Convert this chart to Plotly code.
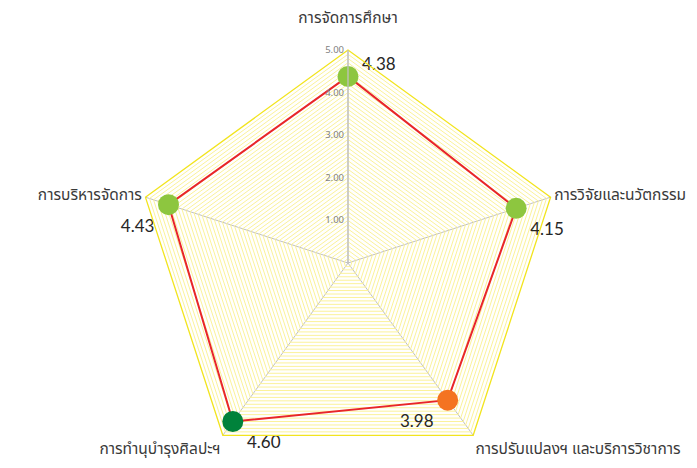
import plotly.graph_objects as go

categories = ["การจัดการศึกษา", "การวิจัยและนวัตกรรม", "การปรับแปลงฯ และบริการวิชาการ",
              "การทำนุบำรุงศิลปะฯ", "การบริหารจัดการ"]
category_labels = ["การจัดการศึกษา<br> ", "การวิจัยและนวัตกรรม", "การปรับแปลงฯ และบริการวิชาการ",
                   "การทำนุบำรุงศิลปะฯ", "การบริหารจัดการ"]
values = [4.38, 4.15, 3.98, 4.60, 4.43]
marker_colors = ["#8DC63F", "#8DC63F", "#F47321", "#00823B", "#8DC63F"]
text_positions = ["middle right", "bottom right", "bottom left", "bottom right", "bottom left"]
value_text = ["4.38<br> ", "4.15", "3.98", "4.60", "4.43"]

grid_vals = [round(i * 0.1, 1) for i in range(1, 51)]
grid_text = [f"{v:.2f}" if abs(v - round(v)) < 1e-9 else "" for v in grid_vals]

fig = go.Figure()
fig.add_trace(go.Scatterpolar(
    r=values + values[:1], theta=categories + categories[:1],
    mode="lines", line=dict(color="#E8262A", width=2),
    hoverinfo="skip", showlegend=False))
fig.add_trace(go.Scatterpolar(
    r=values, theta=categories, mode="markers+text",
    marker=dict(size=21, color=marker_colors),
    text=value_text, textposition=text_positions,
    textfont=dict(size=17, color="#262626", family="Lato, sans-serif"),
    showlegend=False))

fig.update_layout(
    width=697, height=468,
    margin=dict(l=0, r=0, t=0, b=0),
    paper_bgcolor="white",
    font=dict(family="Noto Sans Thai, Tahoma, sans-serif", color="#404040"),
    polar=dict(
        domain=dict(x=[0.1822, 0.7934], y=[0.0, 0.9103]),
        bgcolor="white",
        gridshape="linear",
        angularaxis=dict(
            rotation=90, direction="clockwise",
            tickvals=categories, ticktext=category_labels,
            linecolor="#F2E41E", linewidth=1.3,
            gridcolor="#C0C0C0", gridwidth=1.3,
            tickfont=dict(size=15.5, color="#3A3A3A"),
            ticks="",
        ),
        radialaxis=dict(
            range=[0, 5], angle=90, tickangle=90, side="counterclockwise",
            tickvals=grid_vals, ticktext=grid_text,
            gridcolor="#FBF29A", gridwidth=1.2,
            linecolor="#C0C0C0", linewidth=1.3,
            ticks="", showline=True,
            tickfont=dict(size=9.5, color="#7F7F7F"),
        ),
    ),
)

fig.write_html("out.html")
